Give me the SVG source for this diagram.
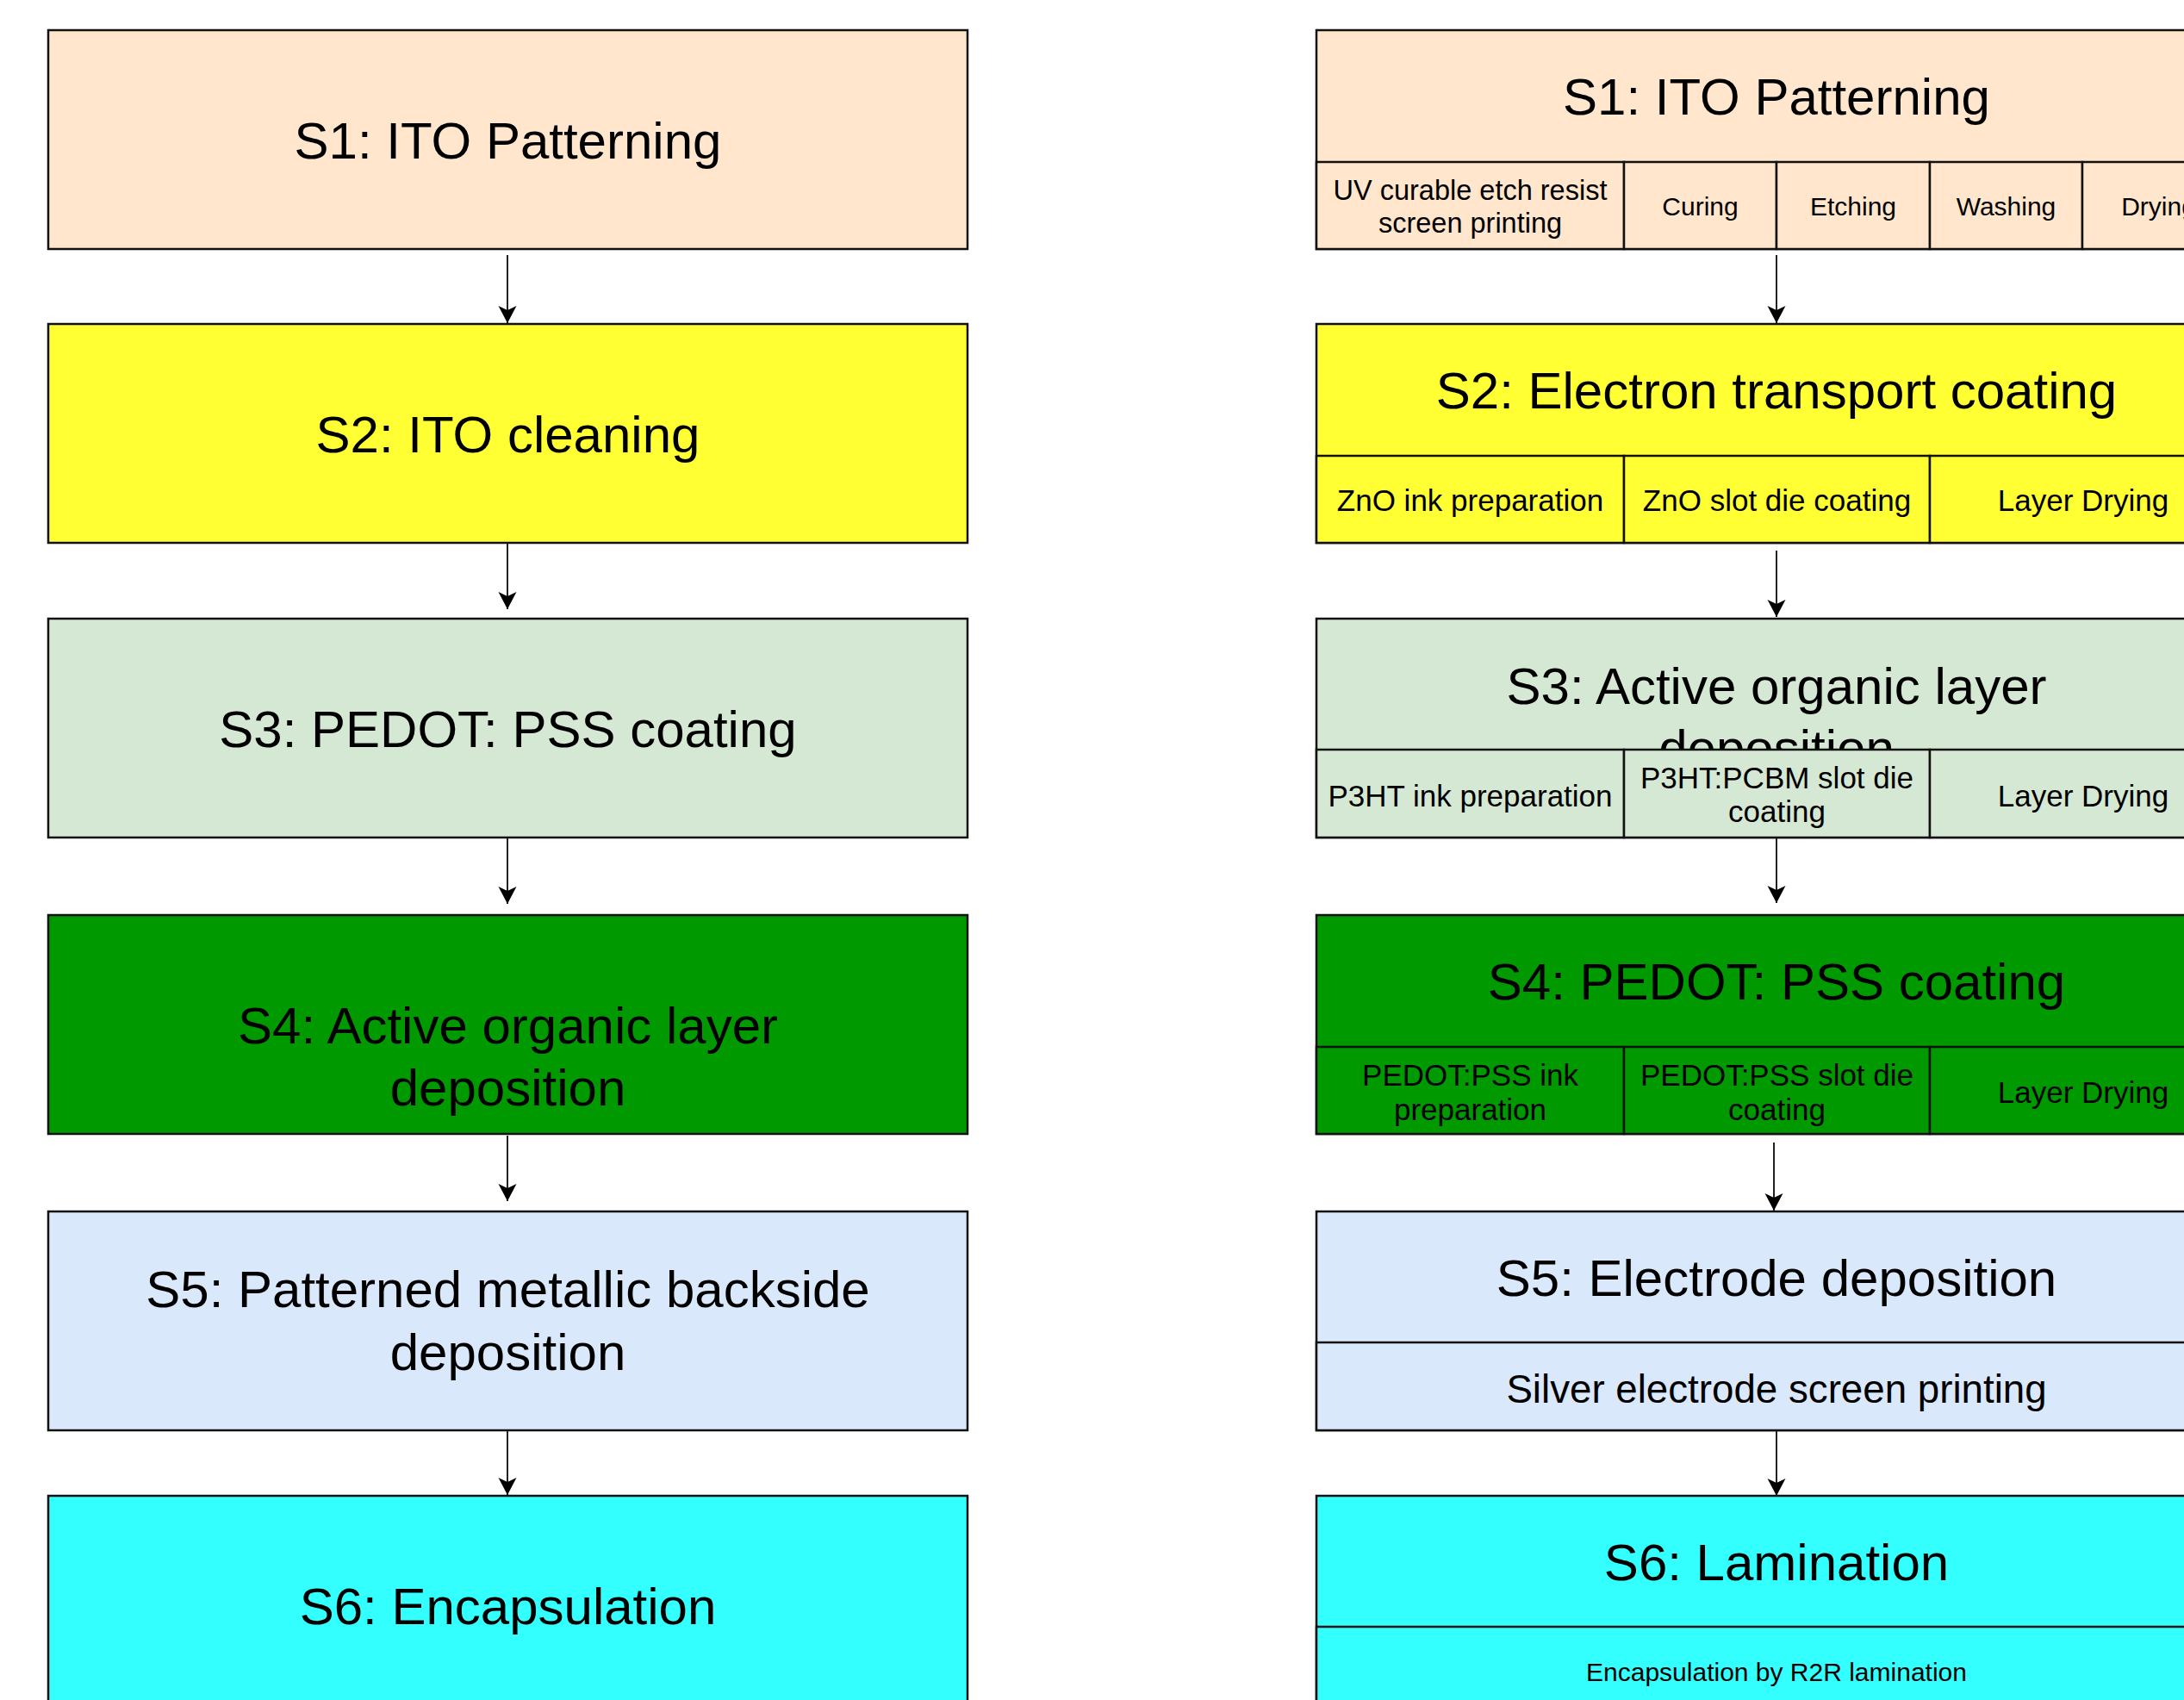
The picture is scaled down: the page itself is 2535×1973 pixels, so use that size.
<svg xmlns="http://www.w3.org/2000/svg" width="2535" height="1973" viewBox="0 0 2535 1973">
<defs>
<marker id="arr" markerUnits="userSpaceOnUse" viewBox="-21 -11 22 22" markerWidth="22" markerHeight="22" refX="0" refY="0" orient="auto"><path d="M0,0 L-20,-10.5 L-15,0 L-20,10.5 Z" fill="#000"/></marker>
</defs>
<style>
.b{stroke:#111;stroke-width:2.5}
.t{font-family:"Liberation Sans",Arial,Helvetica,sans-serif;fill:#000;text-anchor:middle}
.h{font-size:60px}
.m{font-size:35px}
.s{font-size:30px}
.e{stroke:#222;stroke-width:2;fill:none;marker-end:url(#arr)}
.c1{fill:#FFE6CC}.c2{fill:#FFFF33}.c3{fill:#D5E8D4}.c4{fill:#009900}.c5{fill:#DAE8FC}.c6{fill:#33FFFF}
</style>
<rect width="2535" height="1973" fill="#fff"/>

<g id="L1"><rect class="b c1" x="56" y="35" width="1067" height="254"/><text class="t h" x="589.5" y="184">S1: ITO Patterning</text></g>
<g id="L2"><rect class="b c2" x="56" y="376" width="1067" height="254"/><text class="t h" x="589.5" y="524.5">S2: ITO cleaning</text></g>
<g id="L3"><rect class="b c3" x="56" y="718" width="1067" height="254"/><text class="t h" x="589.5" y="866.5">S3: PEDOT: PSS coating</text></g>
<g id="L4"><rect class="b c4" x="56" y="1062" width="1067" height="254"/><text class="t h" x="589.5" y="1211">S4: Active organic layer</text><text class="t h" x="589.5" y="1283">deposition</text></g>
<g id="L5"><rect class="b c5" x="56" y="1406" width="1067" height="254"/><text class="t h" x="589.5" y="1517">S5: Patterned metallic backside</text><text class="t h" x="589.5" y="1590">deposition</text></g>
<g id="L6"><rect class="b c6" x="56" y="1736" width="1067" height="254"/><text class="t h" x="589.5" y="1885">S6: Encapsulation</text></g>

<g id="R1"><rect class="b c1" x="1528" y="35" width="1068" height="254"/><text class="t h" x="2062" y="133">S1: ITO Patterning</text>
<rect class="b c1" x="1528" y="188" width="357" height="101"/><rect class="b c1" x="1885" y="188" width="177" height="101"/><rect class="b c1" x="2062" y="188" width="178" height="101"/><rect class="b c1" x="2240" y="188" width="177" height="101"/><rect class="b c1" x="2417" y="188" width="179" height="101"/>
<text class="t" style="font-size:32.5px" x="1706.5" y="232">UV curable etch resist</text><text class="t" style="font-size:32.5px" x="1706.5" y="270">screen printing</text>
<text class="t s" x="1973.5" y="250">Curing</text><text class="t s" x="2151" y="250">Etching</text><text class="t s" x="2328.5" y="250">Washing</text><text class="t s" x="2505.5" y="250">Drying</text></g>

<g id="R2"><rect class="b c2" x="1528" y="376" width="1068" height="254"/><text class="t h" x="2062" y="474">S2: Electron transport coating</text>
<rect class="b c2" x="1528" y="529" width="357" height="101"/><rect class="b c2" x="1885" y="529" width="355" height="101"/><rect class="b c2" x="2240" y="529" width="356" height="101"/>
<text class="t m" x="1706.5" y="593">ZnO ink preparation</text><text class="t m" x="2062.5" y="593">ZnO slot die coating</text><text class="t m" x="2418" y="593">Layer Drying</text></g>

<g id="R3"><rect class="b c3" x="1528" y="718" width="1068" height="254"/><text class="t h" x="2062" y="817">S3: Active organic layer</text><text class="t h" x="2062" y="889">deposition</text>
<rect class="b c3" x="1528" y="870" width="357" height="102"/><rect class="b c3" x="1885" y="870" width="355" height="102"/><rect class="b c3" x="2240" y="870" width="356" height="102"/>
<text class="t m" x="1706.5" y="936">P3HT ink preparation</text><text class="t m" x="2062.5" y="915">P3HT:PCBM slot die</text><text class="t m" x="2062.5" y="954">coating</text><text class="t m" x="2418" y="936">Layer Drying</text></g>

<g id="R4"><rect class="b c4" x="1528" y="1062" width="1068" height="254"/><text class="t h" x="2062" y="1160">S4: PEDOT: PSS coating</text>
<rect class="b c4" x="1528" y="1215" width="357" height="101"/><rect class="b c4" x="1885" y="1215" width="355" height="101"/><rect class="b c4" x="2240" y="1215" width="356" height="101"/>
<text class="t m" x="1706.5" y="1260">PEDOT:PSS ink</text><text class="t m" x="1706.5" y="1300">preparation</text><text class="t m" x="2062.5" y="1260">PEDOT:PSS slot die</text><text class="t m" x="2062.5" y="1300">coating</text><text class="t m" x="2418" y="1280">Layer Drying</text></g>

<g id="R5"><rect class="b c5" x="1528" y="1406" width="1068" height="254"/><text class="t h" x="2062" y="1503.5">S5: Electrode deposition</text>
<rect class="b c5" x="1528" y="1558" width="1068" height="102"/><text class="t" style="font-size:45.7px" x="2062" y="1628">Silver electrode screen printing</text></g>

<g id="R6"><rect class="b c6" x="1528" y="1736" width="1068" height="254"/><text class="t h" x="2062" y="1834">S6: Lamination</text>
<rect class="b c6" x="1528" y="1888" width="1068" height="102"/><text class="t s" x="2062" y="1951">Encapsulation by R2R lamination</text></g>

<g id="connectors">
<path class="e" d="M589 296 V375"/>
<path class="e" d="M589 631 V707"/>
<path class="e" d="M589 973 V1049"/>
<path class="e" d="M589 1318 V1394"/>
<path class="e" d="M589 1661 V1735"/>
<path class="e" d="M2062 296 V375"/>
<path class="e" d="M2062 639 V716"/>
<path class="e" d="M2062 973 V1048"/>
<path class="e" d="M2059 1326 V1405"/>
<path class="e" d="M2062 1661 V1736"/>
</g>
</svg>
